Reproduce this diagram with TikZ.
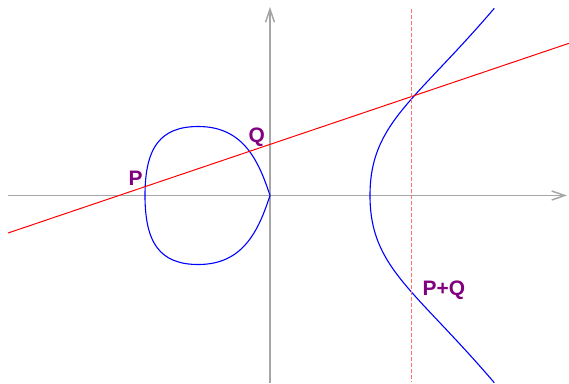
\documentclass[tikz,border=0pt]{standalone}
\usepackage{fontspec}
\setmainfont{Liberation Sans}
\usetikzlibrary{arrows.meta}
\definecolor{ptlabel}{HTML}{800080}

\begin{document}
\begin{tikzpicture}[
  x=1bp, y=1bp,
  axis/.style={black!35, line width=1.5bp, -{Straight Barb[length=13bp, width=9bp]}},
  curve/.style={blue, line width=1.1bp},
  secant/.style={red, line width=1bp},
  dashline/.style={red!55, line width=1.2bp, dash pattern=on 3.5bp off 2.5bp},
  pt/.style={font=\bfseries\fontsize{21}{24}\selectfont, text=ptlabel, inner sep=0pt, anchor=base west}
]
  \useasboundingbox (-270,-187.5) rectangle (299,195.5);

  % axes
  \coordinate (xl) at (-262,0);    \coordinate (xr) at (297,0);
  \coordinate (yb) at (0,-187.5);  \coordinate (yt) at (0,188.5);
  \draw[axis] (xl) -- (xr);
  \draw[axis] (yb) -- (yt);

  % --- curve: bounded part (egg through the origin)
  \draw[curve] (0,0)
    .. controls (-11.5,35) and (-26.7,69) .. (-71.7,69)
    .. controls (-109.7,69) and (-125,48) .. (-125,0)
    .. controls (-125,-48) and (-109.7,-69) .. (-71.7,-69)
    .. controls (-26.7,-69) and (-11.5,-35) .. (0,0);

  % --- curve: unbounded part
  \draw[curve] (224.3,-187.2)
    .. controls (144.3,-93.6) and (100,-72) .. (100,0)
    .. controls (100,72) and (144.3,93.6) .. (224.3,187.2);

  % line through P and Q
  \coordinate (sl) at (-262,-37.5); \coordinate (sr) at (299,152.2);
  \draw[secant] (sl) -- (sr);

  % vertical through the third point
  \coordinate (vt) at (141.7,186.5); \coordinate (vb) at (141.7,-186.5);
  \draw[dashline] (vt) -- (vb);

  % labels
  \node[pt] (lblP)  at (-141.5,10.5) {P};
  \node[pt] (lblQ)  at (-21.5,53.5)  {Q};
  \node[pt] (lblPQ) at (152.5,-100)  {P+Q};
\end{tikzpicture}
\end{document}
